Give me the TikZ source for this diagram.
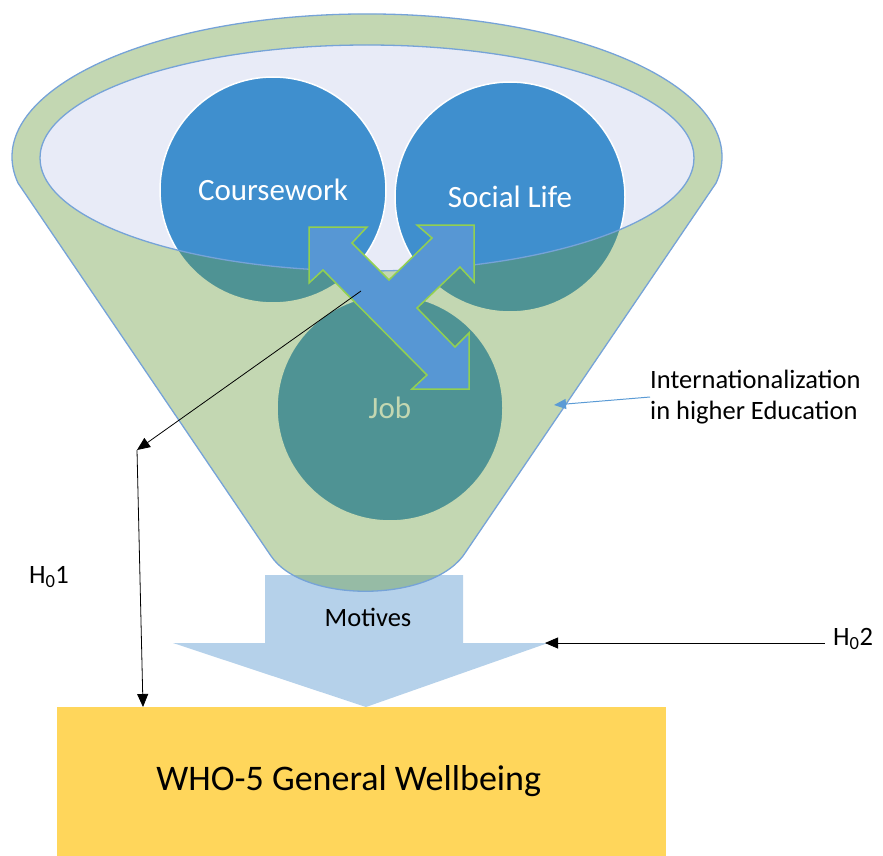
\documentclass[tikz,border=0pt]{standalone}
\usepackage{fontspec}
\setmainfont{Carlito}
\usetikzlibrary{arrows.meta}
\definecolor{mouth}{RGB}{232,235,247}
\definecolor{ballblue}{RGB}{63,143,206}
\definecolor{funnelgreen}{RGB}{105,155,62}
\definecolor{rimblue}{RGB}{118,163,216}
\definecolor{crossblue}{RGB}{87,151,212}
\definecolor{crossrim}{RGB}{146,208,80}
\definecolor{paleblue}{RGB}{181,209,234}
\definecolor{wellyellow}{RGB}{255,214,91}
\definecolor{pointblue}{RGB}{91,155,213}
\tikzset{
    ball/.style={circle, fill=ballblue, draw=white, line width=1.5pt, minimum size=226pt,
      inner sep=0pt, text=white, font=\fontsize{31}{36}\selectfont},
    hyp/.style={inner sep=0pt, font=\fontsize{26.5}{31}\selectfont},
    ptr/.style={-{Triangle[length=13pt, width=11pt]}, line width=0.8pt}
}
\begin{document}
\begin{tikzpicture}[x=1pt, y=-1pt]
  \useasboundingbox (0,0) rectangle (883,856);
  % motives arrow under the funnel
  \fill[paleblue] (265,575) -- (463,575) -- (463,643) -- (548,643) -- (366,707)
    -- (173,643) -- (265,643) -- cycle;
  \coordinate (tip2) at (545,643);
  \node[hyp] (mot) at (368,617) {Motives};
  % mouth and the three balls
  \fill[mouth] (367,158) ellipse [x radius=327, y radius=113];
  \node[ball] (cw) at (273,190) {Coursework};
  \node[ball, minimum size=230pt] (sl) at (510,197) {Social Life};
  \node[ball] (job) at (390,408) {Job};
  % funnel body, laid over the balls
  \draw[rimblue, line width=1.3pt, fill=funnelgreen, fill opacity=.4, even odd rule]
    (18,183) arc[start angle=169.5, end angle=370.5, x radius=355, y radius=143]
    -- (463,556) .. controls (427,603) and (303,603) .. (271,556) -- cycle
    (367,158) ellipse [x radius=327, y radius=113];
  % three-way arrow
  \draw[crossrim, line width=1.5pt, fill=crossblue]
    (309,227) -- (367,227) -- (352,243) -- (389,280) -- (432,238) -- (417,225)
    -- (474,225) -- (474,282) -- (460,267) -- (417,308) -- (455,347) -- (469,333)
    -- (469,389) -- (412,389) -- (427,375) -- (323,270) -- (309,283) -- cycle;
  \coordinate (xc) at (361,291);

  \node[hyp, anchor=west, align=left] (intl) at (650,397) {Internationalization\\in higher Education};
  \coordinate (edge) at (554,405);
  \draw[pointblue, line width=1pt, -{Triangle[length=12pt, width=10pt]}] (intl.west) -- (edge);

  \node[fill=wellyellow, anchor=north west, inner sep=0pt, minimum width=609pt,
    minimum height=149pt] (who) at (57,707) {};
  \node[font=\fontsize{36}{42}\selectfont] (whotxt) at ([xshift=-13pt, yshift=1pt]who.center) {WHO-5 General Wellbeing};

  \node[hyp] (h1) at (49,577) {H\textsubscript{0}1};
  \node[hyp, inner xsep=8pt] (h2) at (853,639) {H\textsubscript{0}2};
  \coordinate (h1top) at (137,450);
  \coordinate (h1bot) at (143,707);
  \draw[ptr] (xc) -- (h1top);
  \draw[ptr] (h1top) -- (h1bot);
  \draw[ptr] (h2.west |- tip2) -- (tip2);
\end{tikzpicture}
\end{document}
